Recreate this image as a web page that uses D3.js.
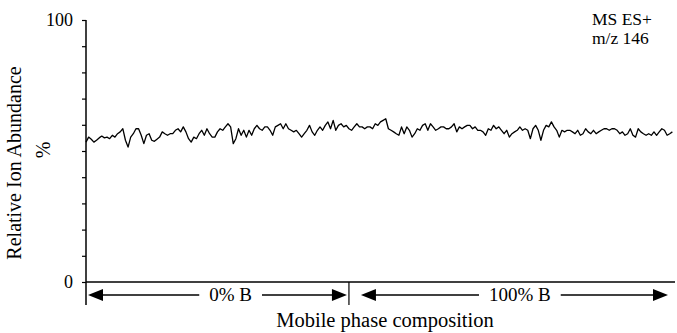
<!DOCTYPE html>
<html>
<head>
<meta charset="utf-8">
<script src="https://cdn.jsdelivr.net/npm/d3@7"></script>
<style>
  body { margin: 0; background: #fff; }
  text { font-family: "Liberation Serif", "Times New Roman", serif; fill: #000; }
</style>
</head>
<body>
<div id="canvas"></div>
<script>
"use strict"

/* Chart data */
// relative ion abundance (%) left to right
let abundance = [
    53.4, 55.3, 54.5, 53.4, 54.1, 55.0, 55.7, 55.0, 55.3, 54.7, 56.0, 55.3, 56.6, 57.3, 58.5, 54.1, 51.5, 55.3, 56.6, 58.5,
    58.5, 56.0, 52.8, 56.0, 56.6, 54.1, 53.7, 54.5, 55.3, 57.3, 56.6, 56.0, 56.6, 56.6, 57.9, 58.5, 57.3,
    59.2, 57.3, 54.7, 53.4, 55.3, 54.7, 56.6, 57.9, 56.0, 58.5, 56.6, 55.3, 55.3, 57.3, 58.5, 57.9, 59.2, 60.4,
    59.2, 52.8, 54.7, 58.5, 56.0, 57.9, 55.3, 57.9, 56.0, 58.5, 59.8, 58.5, 57.9, 59.2, 59.2, 57.9, 56.0,
    59.2, 59.8, 60.4, 58.5, 60.4, 58.5, 57.9, 57.3, 57.9, 56.6, 55.3, 56.6, 57.9, 59.8, 57.3, 56.0, 57.9, 59.2,
    57.9, 59.8, 61.1, 58.5, 61.7, 57.9, 59.8, 60.4, 59.2, 59.8, 58.5, 57.9, 59.2, 60.4, 59.2, 59.2, 58.5, 59.2,
    59.2, 58.5, 60.4, 59.8, 61.1, 61.7, 62.3, 58.5, 57.9, 57.3, 56.6, 56.0, 59.2, 56.6, 59.2, 57.9, 55.3, 56.6,
    58.5, 57.9, 59.8, 60.4, 57.9, 60.4, 59.2, 57.9, 58.5, 59.2, 59.2, 58.5, 58.5, 59.2, 60.4, 57.3, 59.2, 58.5, 59.2, 59.8,
    59.8, 58.5, 59.2, 57.9, 57.9, 57.3, 56.0, 58.5, 57.9, 59.8, 58.5, 59.2, 57.9, 56.6, 57.9, 55.3, 56.6, 57.3, 57.9,
    59.2, 57.9, 58.5, 57.9, 54.7, 58.5, 59.8, 57.9, 54.1, 57.9, 59.8, 59.2, 61.1, 59.2, 57.9, 55.3, 57.9, 57.3, 57.9, 57.9,
    57.3, 56.6, 57.9, 56.0, 56.6, 58.5, 57.3, 56.6, 57.9, 56.6, 57.3, 57.9, 58.5, 58.5, 57.9, 58.5, 58.5, 57.9, 56.6,
    57.3, 56.0, 56.6, 58.5, 56.0, 55.3, 58.5, 57.3, 56.6, 56.0, 56.6, 56.0, 57.3, 56.0, 57.3, 58.5, 57.9, 56.0, 56.6, 57.3
];

// mobile phase segments, in scan index units
let phaseLabels = ["0% B", "100% B"];
let phaseStart = [0, 100];
let phaseEnd = [100, abundance.length];
let phaseLabelAt = [55, 165];

let yTicks = [0, 10, 20, 30, 40, 50, 60, 70, 80, 90, 100];
let yTickLabels = ["0", "", "", "", "", "", "", "", "", "", "100"];

/* Configuration variables: drawing */
let svgWidth = 677;
let svgHeight = 333;
let plotLeft = 86;
let plotRight = 675;
let plotTop = 20;
let plotBottom = 282;

let svg = d3.select("#canvas")
    .append("svg")
    .attr("width", svgWidth)
    .attr("height", svgHeight);

/* Scales */
let xScale = d3.scaleLinear()
    .domain([0, abundance.length])
    .range([plotLeft, plotRight]);

let yScale = d3.scaleLinear()
    .domain([0, 100])
    .range([plotBottom, plotTop]);

/* y axis */
let yAxis = d3.axisLeft(yScale)
    .tickValues(yTicks)
    .tickSize(4)
    .tickSizeOuter(0)
    .tickPadding(9)
    .tickFormat((d, i) => yTickLabels[i]);

let yAxisG = svg.append("g")
    .attr("transform", "translate(" + plotLeft + ",0)")
    .call(yAxis);
yAxisG.select(".domain").remove();
yAxisG.selectAll("line").attr("stroke", "#000").attr("stroke-width", 1.2);
yAxisG.selectAll("text")
    .attr("font-family", "Liberation Serif, serif")
    .attr("font-size", 18);

// axis line runs down past the baseline
svg.append("line")
    .attr("x1", plotLeft).attr("x2", plotLeft)
    .attr("y1", plotTop).attr("y2", 305)
    .attr("stroke", "#000")
    .attr("stroke-width", 1.5);

/* x axis baseline */
svg.append("line")
    .attr("x1", plotLeft).attr("x2", plotRight)
    .attr("y1", plotBottom).attr("y2", plotBottom)
    .attr("stroke", "#000")
    .attr("stroke-width", 1.5);

/* trace */
let line = d3.line()
    .x((d, i) => xScale(i))
    .y(d => yScale(d));

svg.append("path")
    .datum(abundance)
    .attr("d", line)
    .attr("fill", "none")
    .attr("stroke", "#000")
    .attr("stroke-width", 1.3)
    .attr("stroke-linejoin", "round");

/* mobile phase arrows */
let arrowY = 295;
let headLen = 15;
let headHalf = 6;

phaseLabels.forEach(function (label, i) {
    let x0 = xScale(phaseStart[i]) + (i == 0 ? 2 : 12);
    let x1 = xScale(phaseEnd[i]) - (i == 0 ? 2 : 7);
    let mid = xScale(phaseLabelAt[i]);

    // divider between phases
    if (i > 0) {
        svg.append("line")
            .attr("x1", xScale(phaseStart[i])).attr("x2", xScale(phaseStart[i]))
            .attr("y1", plotBottom).attr("y2", 305)
            .attr("stroke", "#000")
            .attr("stroke-width", 1.2);
    }

    let txt = svg.append("text")
        .attr("x", mid)
        .attr("y", arrowY + 6)
        .attr("text-anchor", "middle")
        .attr("font-size", 19)
        .text(label);
    let w = txt.node().getComputedTextLength();

    svg.append("line")
        .attr("x1", x0 + headLen - 1).attr("x2", mid - w / 2 - 10)
        .attr("y1", arrowY).attr("y2", arrowY)
        .attr("stroke", "#000").attr("stroke-width", 1.5);
    svg.append("line")
        .attr("x1", mid + w / 2 + 10).attr("x2", x1 - headLen + 1)
        .attr("y1", arrowY).attr("y2", arrowY)
        .attr("stroke", "#000").attr("stroke-width", 1.5);

    svg.append("path")
        .attr("d", "M" + x0 + "," + arrowY + "L" + (x0 + headLen) + "," + (arrowY - headHalf) +
            "L" + (x0 + headLen) + "," + (arrowY + headHalf) + "Z")
        .attr("fill", "#000");
    svg.append("path")
        .attr("d", "M" + x1 + "," + arrowY + "L" + (x1 - headLen) + "," + (arrowY - headHalf) +
            "L" + (x1 - headLen) + "," + (arrowY + headHalf) + "Z")
        .attr("fill", "#000");
});

/* axis titles */
svg.append("text")
    .attr("x", 385)
    .attr("y", 327)
    .attr("text-anchor", "middle")
    .attr("font-size", 20.5)
    .text("Mobile phase composition");

svg.append("text")
    .attr("transform", "translate(21,163) rotate(-90)")
    .attr("text-anchor", "middle")
    .attr("font-size", 20)
    .text("Relative Ion Abundance");

svg.append("text")
    .attr("transform", "translate(50,150) rotate(-90)")
    .attr("text-anchor", "middle")
    .attr("font-size", 20)
    .text("%");

/* scan label */
svg.append("text")
    .attr("x", 592)
    .attr("y", 25)
    .attr("font-size", 17.5)
    .text("MS ES+");
svg.append("text")
    .attr("x", 592)
    .attr("y", 44)
    .attr("font-size", 17.5)
    .text("m/z 146");
</script>
</body>
</html>
